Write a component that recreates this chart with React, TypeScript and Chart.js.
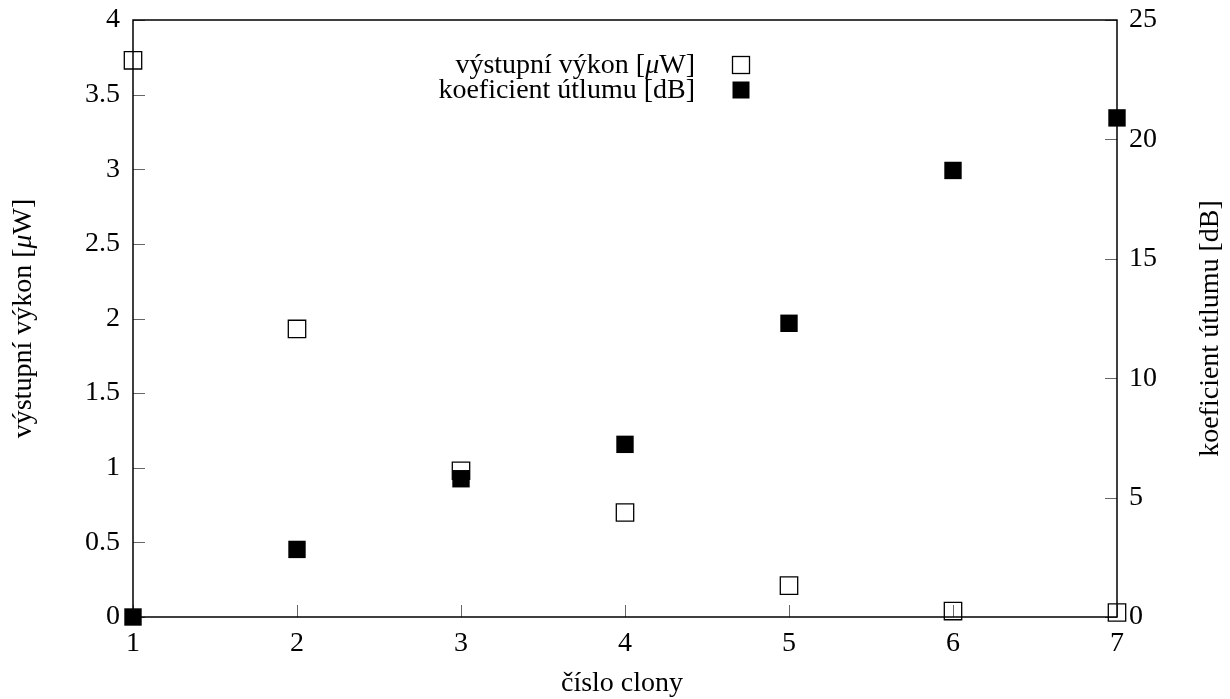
import React, { useEffect, useRef } from "react";
import { Chart, registerables } from "chart.js";

Chart.register(...registerables);

// ---- data ----
const clony = [1, 2, 3, 4, 5, 6, 7];
const vykon = [3.73, 1.93, 0.98, 0.7, 0.21, 0.04, 0.03];
const utlum = [0, 2.83, 5.79, 7.23, 12.3, 18.7, 20.9];

const xTicks = [1, 2, 3, 4, 5, 6, 7];
const yTicks = [0, 0.5, 1, 1.5, 2, 2.5, 3, 3.5, 4];
const y2Ticks = [0, 5, 10, 15, 20, 25];

const labelVykon = "výstupní výkon [μW]";
const labelUtlum = "koeficient útlumu [dB]";
const labelX = "číslo clony";

const FONT = "'Liberation Serif', 'Times New Roman', serif";
const FS = 28;

// draws text, rendering the Greek "μ" in italic (as in math mode)
function drawRich(ctx: CanvasRenderingContext2D, text: string, x: number, y: number, align: "left" | "center" | "right") {
  const parts = text.split(/(μ)/).filter((p) => p.length);
  const fontFor = (p: string) => (p === "μ" ? `italic ${FS}px ${FONT}` : `${FS}px ${FONT}`);
  let total = 0;
  const widths = parts.map((p) => {
    ctx.font = fontFor(p);
    const w = ctx.measureText(p).width;
    total += w;
    return w;
  });
  let cx = align === "left" ? x : align === "center" ? x - total / 2 : x - total;
  ctx.textAlign = "left";
  parts.forEach((p, i) => {
    ctx.font = fontFor(p);
    ctx.fillText(p, cx, y);
    cx += widths[i];
  });
}

const framePlugin = {
  id: "frameTicks",
  beforeDatasetsDraw(chart: any) {
    const { ctx, chartArea: a, scales } = chart;
    ctx.save();
    ctx.strokeStyle = "#666";
    ctx.lineWidth = 1;
    ctx.beginPath();
    for (const v of xTicks) {
      const x = Math.round(scales.x.getPixelForValue(v)) + 0.5;
      ctx.moveTo(x, a.bottom);
      ctx.lineTo(x, a.bottom - 12);
    }
    for (const v of yTicks) {
      const y = Math.round(scales.y.getPixelForValue(v)) + 0.5;
      ctx.moveTo(a.left, y);
      ctx.lineTo(a.left + 12, y);
    }
    for (const v of y2Ticks) {
      const y = Math.round(scales.y2.getPixelForValue(v)) + 0.5;
      ctx.moveTo(a.right, y);
      ctx.lineTo(a.right - 12, y);
    }
    ctx.stroke();
    ctx.strokeStyle = "#000";
    ctx.lineWidth = 1.5;
    ctx.strokeRect(a.left, a.top, a.right - a.left, a.bottom - a.top);
    ctx.restore();
  },
  afterDraw(chart: any) {
    const { ctx, chartArea: a } = chart;
    ctx.save();
    ctx.fillStyle = "#000";
    ctx.font = `${FS}px ${FONT}`;
    // axis titles
    const cy = (a.top + a.bottom) / 2;
    ctx.textBaseline = "middle";
    ctx.save();
    ctx.translate(24, cy);
    ctx.rotate(-Math.PI / 2);
    drawRich(ctx, labelVykon, 0, 0, "center");
    ctx.restore();
    ctx.save();
    ctx.translate(1211, cy + 10);
    ctx.rotate(-Math.PI / 2);
    drawRich(ctx, labelUtlum, 0, 0, "center");
    ctx.restore();
    ctx.textBaseline = "alphabetic";
    drawRich(ctx, labelX, (a.left + a.right) / 2 - 3, 691, "center");
    // legend
    const ds = chart.data.datasets;
    [ds[0], ds[1]].forEach((d: any, i: number) => {
      const y = 65 + 25 * i;
      ctx.textBaseline = "middle";
      ctx.fillStyle = "#000";
      drawRich(ctx, d.label, 695, y + 1, "right");
      const s = 17;
      if (d.filled) {
        ctx.fillStyle = "#000";
        ctx.fillRect(741 - s / 2, y - s / 2, s, s);
      } else {
        ctx.strokeStyle = "#000";
        ctx.lineWidth = 1.3;
        ctx.strokeRect(741 - s / 2, y - s / 2, s, s);
      }
    });
    ctx.restore();
  },
};

export default function App() {
  const ref = useRef<HTMLCanvasElement | null>(null);
  useEffect(() => {
    if (!ref.current) return;
    const tickFont = { family: FONT, size: FS };
    const chart = new Chart(ref.current, {
      type: "scatter",
      data: {
        datasets: [
          {
            label: labelVykon,
            data: clony.map((c, i) => ({ x: c, y: vykon[i] })),
            yAxisID: "y",
            pointStyle: "rect",
            pointRadius: 12.3,
            pointHoverRadius: 12.3,
            borderColor: "#000",
            borderWidth: 1.3,
            backgroundColor: "rgba(0,0,0,0)",
            clip: false,
            order: 1,
            filled: false,
          } as any,
          {
            label: labelUtlum,
            data: clony.map((c, i) => ({ x: c, y: utlum[i] })),
            yAxisID: "y2",
            pointStyle: "rect",
            pointRadius: 12.3,
            pointHoverRadius: 12.3,
            borderColor: "#000",
            borderWidth: 0,
            backgroundColor: "#000",
            clip: false,
            order: 0,
            filled: true,
          } as any,
        ],
      },
      options: {
        animation: false,
        responsive: false,
        devicePixelRatio: 1,
        events: [],
        layout: { padding: { top: 20, left: 0, right: 0, bottom: 0 } },
        plugins: {
          legend: { display: false },
          tooltip: { enabled: false },
          title: { display: false },
        },
        scales: {
          x: {
            type: "linear",
            position: "bottom",
            min: 1,
            max: 7,
            grid: { display: false, drawTicks: false },
            border: { display: false },
            afterBuildTicks: (s: any) => {
              s.ticks = xTicks.map((v) => ({ value: v }));
            },
            afterFit: (s: any) => {
              s.height = 82;
              s.paddingLeft = 0;
              s.paddingRight = 0;
            },
            ticks: {
              font: tickFont,
              color: "#000",
              padding: 10,
              autoSkip: false,
              maxRotation: 0,
              callback: (v: any) => String(v),
            },
          },
          y: {
            type: "linear",
            position: "left",
            min: 0,
            max: 4,
            grid: { display: false, drawTicks: false },
            border: { display: false },
            afterBuildTicks: (s: any) => {
              s.ticks = yTicks.map((v) => ({ value: v }));
            },
            afterFit: (s: any) => {
              s.width = 133;
              s.paddingTop = 0;
              s.paddingBottom = 0;
            },
            ticks: {
              font: tickFont,
              color: "#000",
              padding: 13,
              autoSkip: false,
              callback: (v: any) => String(v),
            },
          },
          y2: {
            type: "linear",
            position: "right",
            min: 0,
            max: 25,
            grid: { display: false, drawTicks: false },
            border: { display: false },
            afterBuildTicks: (s: any) => {
              s.ticks = y2Ticks.map((v) => ({ value: v }));
            },
            afterFit: (s: any) => {
              s.width = 113;
              s.paddingTop = 0;
              s.paddingBottom = 0;
            },
            ticks: {
              font: tickFont,
              color: "#000",
              padding: 12,
              autoSkip: false,
              callback: (v: any) => String(v),
            },
          },
        },
      },
      plugins: [framePlugin],
    });
    return () => chart.destroy();
  }, []);
  return (
    <div
      style={{
        position: "fixed",
        left: 0,
        top: 0,
        width: 1230,
        height: 699,
        background: "#fff",
      }}
    >
      <canvas ref={ref} width={1230} height={699} style={{ display: "block" }} />
    </div>
  );
}
